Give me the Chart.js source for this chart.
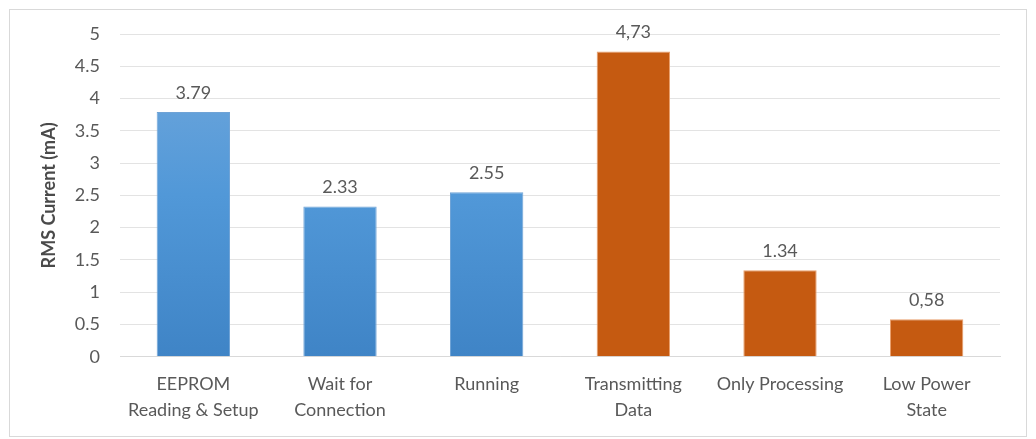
<!DOCTYPE html>
<html>
<head>
<meta charset="utf-8">
<script src="https://cdn.jsdelivr.net/npm/chart.js@4.4.1/dist/chart.umd.min.js"></script>
<style>
  html, body { margin: 0; padding: 0; background: #fff; }
  #wrap { width: 1036px; height: 439px; }
</style>
</head>
<body>
<div id="wrap"><canvas id="chart" width="1036" height="439"></canvas></div>
<script>
// data
const categories = [
	['EEPROM', 'Reading & Setup'],
	['Wait for', 'Connection'],
	['Running'],
	['Transmitting', 'Data'],
	['Only Processing'],
	['Low Power', 'State']
];
const currents    = [3.79, 2.33, 2.55, 4.73, 1.34, 0.58];
const valueLabels = ['3.79', '2.33', '2.55', '4,73', '1.34', '0,58'];
const isTx        = [false, false, false, true, true, true];
const yTicks      = [0, 0.5, 1, 1.5, 2, 2.5, 3, 3.5, 4, 4.5, 5];

const grey = '#595959';
const font = "Lato, 'Open Sans', sans-serif";

function barFill(ctx) {
	let chart = ctx.chart;
	let area = chart.chartArea;
	if (isTx[ctx.dataIndex]) return '#c55a11';
	if (!area) return '#5b9bd5';
	let g = chart.ctx.createLinearGradient(0, area.top, 0, area.bottom);
	g.addColorStop(0, '#74a9dc');
	g.addColorStop(0.5, '#5198d8');
	g.addColorStop(1, '#3f84c6');
	return g;
}

// frame round the whole picture + value labels over the bars
const extras = {
	id: 'extras',
	beforeDraw(chart) {
		let c = chart.ctx;
		c.save();
		c.fillStyle = '#fff';
		c.fillRect(0, 0, chart.width, chart.height);
		c.strokeStyle = '#d9d9d9';
		c.lineWidth = 1;
		c.strokeRect(9.5, 9.5, 1017, 427);
		c.restore();
	},
	afterDatasetsDraw(chart) {
		let c = chart.ctx;
		let meta = chart.getDatasetMeta(0);
		c.save();
		c.fillStyle = grey;
		c.font = '18px ' + font;
		c.textAlign = 'center';
		c.textBaseline = 'bottom';
		meta.data.forEach(function(bar, i) {
			c.fillText(valueLabels[i], bar.x, bar.y - 10);
		});
		c.restore();
	}
};

new Chart(document.getElementById('chart'), {
	type: 'bar',
	data: {
		labels: categories,
		datasets: [{
			data: currents,
			backgroundColor: barFill,
			borderColor: function(ctx) { return isTx[ctx.dataIndex] ? '#e9a06e' : '#6fa3d6'; },
			borderWidth: 1,
			barPercentage: 0.5,
			categoryPercentage: 1
		}]
	},
	options: {
		responsive: false,
		animation: false,
		layout: { padding: { left: 28, right: 36, top: 34, bottom: 2 } },
		plugins: { legend: { display: false }, tooltip: { enabled: false } },
		scales: {
			x: {
				grid: { display: false, drawTicks: false },
				border: { color: '#d9d9d9' },
				ticks: { color: grey, font: { family: font, size: 18, lineHeight: 1.45 }, padding: 14, maxRotation: 0, autoSkip: false }
			},
			y: {
				min: 0,
				max: 5,
				afterBuildTicks: function(axis) { axis.ticks = yTicks.map(v => ({ value: v })); },
				afterFit: function(axis) { axis.width = 92; },
				grid: { color: '#e3e3e3', drawTicks: false },
				border: { display: false },
				ticks: {
					color: grey, font: { family: font, size: 18 }, padding: 20,
					callback: function(v) { return String(v); }
				},
				title: { display: true, text: 'RMS Current (mA)', color: '#4a4a4a', font: { family: font, size: 18, weight: 'bold' }, padding: { top: 10, bottom: 0 } }
			}
		}
	},
	plugins: [extras]
});
</script>
</body>
</html>
